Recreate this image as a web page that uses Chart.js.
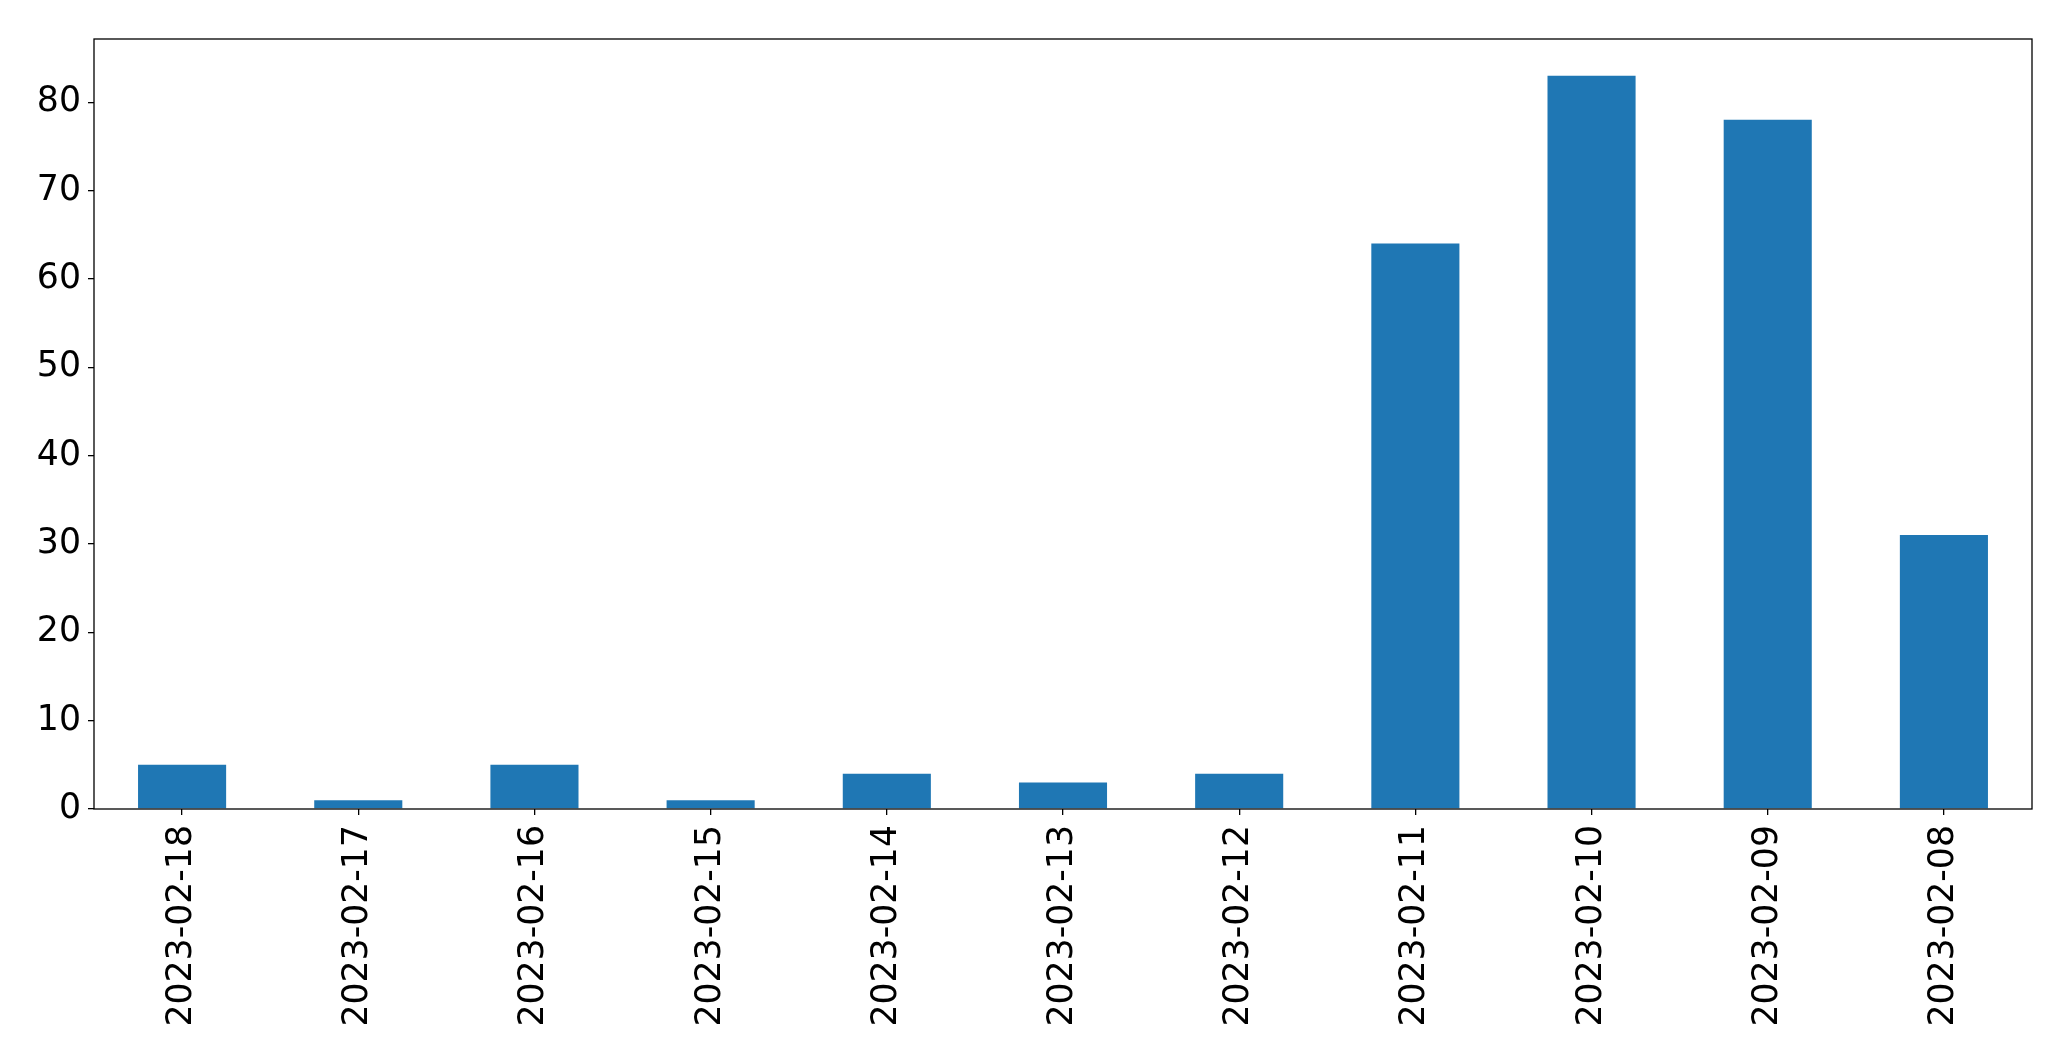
<!DOCTYPE html>
<html>
<head>
<meta charset="utf-8">
<script src="https://cdn.jsdelivr.net/npm/chart.js@4"></script>
<style>
  html, body { margin: 0; padding: 0; background: #fff; }
  #wrap { width: 2071px; height: 1061px; }
</style>
</head>
<body>
<div id="wrap"><canvas id="myChart" width="2071" height="1061"></canvas></div>
<script>
var dates = ['2023-02-18', '2023-02-17', '2023-02-16', '2023-02-15', '2023-02-14', '2023-02-13',
             '2023-02-12', '2023-02-11', '2023-02-10', '2023-02-09', '2023-02-08'];
var counts = [5, 1, 5, 1, 4, 3, 4, 64, 83, 78, 31];
var yTicks = [0, 10, 20, 30, 40, 50, 60, 70, 80];

// frame around the plot area, like matplotlib spines
var frame = {
    id: 'frame',
    afterDraw: function (chart) {
        var a = chart.chartArea, c = chart.ctx;
        c.save();
        c.strokeStyle = '#000';
        c.lineWidth = 1.3;
        c.strokeRect(a.left, a.top, a.right - a.left, a.bottom - a.top);
        c.restore();
    }
};

var ctx = document.getElementById('myChart').getContext('2d');
var myChart = new Chart(ctx, {
    type: 'bar',
    data: {
        labels: dates,
        datasets: [{
            data: counts,
            backgroundColor: '#1f77b4',
            barPercentage: 0.5,
            categoryPercentage: 1.0
        }]
    },
    options: {
        responsive: false,
        animation: false,
        layout: { padding: { left: 0, top: 39, right: 39, bottom: 0 } },
        plugins: { legend: { display: false }, tooltip: { enabled: false } },
        scales: {
            x: {
                offset: true,
                grid: { display: true, drawOnChartArea: false, offset: false, tickLength: 6, color: '#000', lineWidth: 1.3 },
                border: { display: false },
                ticks: {
                    color: '#000', minRotation: 90, maxRotation: 90, padding: 10, autoSkip: false,
                    font: { family: 'DejaVu Sans', size: 34.7 }
                },
                afterFit: function (s) { s.height = 1061 - 809; }
            },
            y: {
                min: 0,
                max: 87.15,
                afterBuildTicks: function (s) { s.ticks = yTicks.map(function (v) { return { value: v }; }); },
                grid: { display: true, drawOnChartArea: false, tickLength: 6, color: '#000', lineWidth: 1.3 },
                border: { display: false },
                ticks: {
                    color: '#000', padding: 7,
                    font: { family: 'DejaVu Sans', size: 34.7 }
                },
                afterFit: function (s) { s.width = 94; }
            }
        }
    },
    plugins: [frame]
});
</script>
</body>
</html>
